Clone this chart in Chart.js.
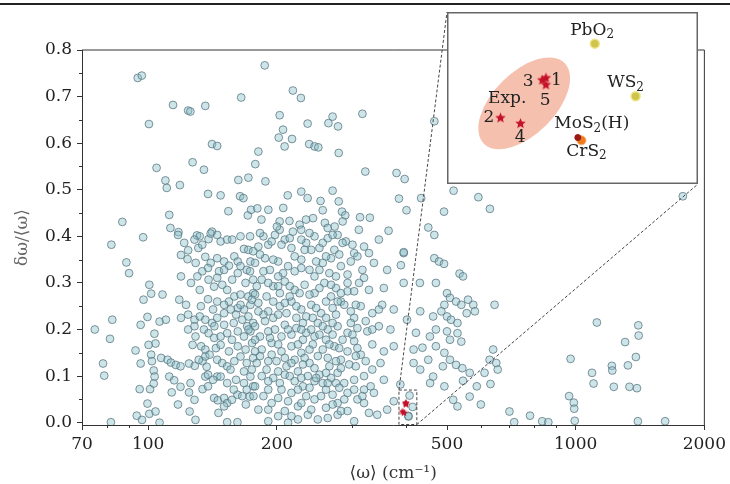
<!DOCTYPE html>
<html>
<head>
<meta charset="utf-8">
<script src="https://cdn.jsdelivr.net/npm/chart.js"></script>
<style>
  body { margin: 0; background: #fff; }
  #wrap { position: relative; width: 730px; height: 484px; overflow: hidden; }
  #topline { position: absolute; left: 0; top: 3px; width: 730px; height: 2px; background: #222; }
  #main { position: absolute; left: 0; top: 0; }
  #inset { position: absolute; left: 447px; top: 12px; }
</style>
</head>
<body>
<div id="wrap">
  <div id="topline"></div>
  <canvas id="main" width="730" height="484"></canvas>
  <canvas id="inset" width="251" height="172"></canvas>
</div>
<script>
// Axis ticks
const xTickVals = [70, 100, 200, 500, 1000, 2000];
const xMinorVals = [80, 90, 300, 400, 600, 700, 800, 900];
const yTickVals = [0, 0.1, 0.2, 0.3, 0.4, 0.5, 0.6, 0.7, 0.8];
const yMinorVals = [0.05, 0.15, 0.25, 0.35, 0.45, 0.55, 0.65, 0.75];

// Zoomed window shown in the inset
const zoomX = [386, 425];
const zoomY = [-0.004, 0.07];

// Experimental points (stars)
const expLabels = ['1', '3', '5', '2', '4'];
const expX = [400.7, 400.1, 400.7, 393.4, 396.6];
const expY = [0.0423, 0.0413, 0.0391, 0.0237, 0.0211];

// Highlighted compounds
const compoundNames = ['PbO₂', 'WS₂', 'MoS₂(H)', 'CrS₂'];
const compoundX = [408.7, 415.5, 405.9, 406.5];
const compoundY = [0.0583, 0.0338, 0.0146, 0.0133];

// All materials: [<omega> (cm^-1), delta omega / <omega>]
const materials = [
  [94.5,0.74],[96.6,0.745],[165,0.698],[114.3,0.682],[124,0.67],[125.5,0.668],[136,0.68],[100.4,0.641],[141,0.598],[145,0.594],
  [127,0.559],[135,0.543],[104.6,0.547],[109.7,0.52],[110.5,0.504],[118.6,0.51],[138,0.491],[147.7,0.488],[162.5,0.521],[171.5,0.526],
  [164,0.486],[167,0.482],[154,0.454],[171,0.445],[174,0.457],[112,0.446],[87,0.431],[112.7,0.418],[117.7,0.409],[141,0.41],[130,0.402],
  [187.3,0.767],[218,0.713],[227.6,0.697],[203,0.66],[206.7,0.629],[202,0.612],[208.5,0.593],[217,0.609],[236,0.642],[270,0.657],
  [264,0.643],[278,0.636],[238,0.598],[245,0.593],[250,0.591],[317,0.663],[279,0.579],[181,0.582],[178,0.555],[188,0.518],
  [322,0.539],[381,0.536],[398,0.523],[467,0.647],[386,0.481],[402,0.456],[435,0.482],[492,0.453],[452,0.419],[365,0.412],
  [212,0.488],[228,0.496],[236,0.482],[270,0.498],[253,0.476],[256,0.456],[279,0.475],[284,0.453],[289,0.445],[313,0.441],
  [330,0.44],[207,0.461],[191,0.457],[180,0.46],[184,0.436],[203,0.432],[214,0.433],[226,0.425],[234,0.436],[243,0.439],
  [259,0.429],[263,0.418],[273,0.421],[285,0.432],[311,0.414],[218,0.41],[228,0.414],[203,0.414],[200,0.421],
  [82,0.382],[97.3,0.398],[88.9,0.344],[90.2,0.321],[100.6,0.296],[101.6,0.277],[97.5,0.264],[108,0.275],[118.2,0.264],[82.4,0.221],
  [75,0.2],[81.4,0.18],[78.4,0.127],[78.9,0.101],[81.8,0.001],[96,0.21],[99.6,0.227],[106.3,0.217],[110,0.221],[103.4,0.191],
  [104,0.17],[100.2,0.167],[93.4,0.155],[101.6,0.146],[102,0.132],[96,0.127],[107.2,0.139],[111,0.135],[113,0.129],[116,0.124],
  [119,0.121],[124.6,0.127],[128.5,0.122],[134,0.132],[136,0.142],[137,0.12],[103,0.112],[103.5,0.099],[95.5,0.072],[101,0.072],
  [103,0.084],[112,0.099],[115,0.091],[113.5,0.065],[119,0.077],[99.6,0.041],[100.6,0.019],[104,0.024],[96.7,0.006],[106.3,0.0],
  [117.4,0.039],[125,0.024],[129,0.006],[124.6,0.065],[128.3,0.049],[125.6,0.085],[134,0.072],[138,0.078],[136,0.099],[138,0.103],
  [145,0.099],[142.6,0.053],[145.5,0.048],[150.5,0.053],[153,0.042],[157,0.049],[161.7,0.06],[146,0.021],[153,0.001],[161.7,0.001],
  [169.2,0.039],[172.8,0.056],[176,0.078],[94,0.015],
  [117.4,0.403],[119.3,0.36],[124,0.37],[123.6,0.351],[131,0.375],[132,0.4],[138.4,0.394],[140,0.406],[147.7,0.389],[153,0.393],
  [136,0.356],[140,0.343],[145,0.353],[150.5,0.346],[159,0.357],[162,0.346],[167.5,0.373],[171.5,0.371],[176,0.368],[138,0.332],
  [146.4,0.325],[154.5,0.337],[162,0.321],[170,0.328],[176,0.307],[125.9,0.3],[132,0.285],[138.4,0.307],[142.6,0.292],[149,0.296],
  [153,0.285],[159,0.271],[164.4,0.275],[171.5,0.271],[176,0.278],[138,0.265],[145,0.26],[154.5,0.26],[162,0.246],[167.5,0.243],
  [173.4,0.253],[119.3,0.225],[124,0.232],[128.3,0.221],[132,0.228],[136,0.221],[141,0.214],[145,0.225],[150.5,0.235],[156,0.243],
  [160.5,0.232],[166,0.221],[171.5,0.228],[176,0.214],[124,0.2],[129,0.185],[135,0.2],[138.4,0.192],[142.6,0.182],[147.7,0.185],
  [153,0.192],[157,0.178],[162,0.196],[167.5,0.185],[173.4,0.196],[127,0.167],[133,0.164],[136,0.157],[144,0.16],[147.7,0.167],
  [154.5,0.153],[162,0.164],[169,0.157],[175,0.171],[145,0.135],[149,0.128],[153,0.121],[159,0.132],[164.4,0.142],[170,0.128],
  [176,0.139],[147.7,0.099],[153,0.085],[160.5,0.092],[167.5,0.085],[173.4,0.099],[170,0.071],
  [121.4,0.386],[128.3,0.393],[133.8,0.382],[145,0.403],[157.2,0.393],[164.4,0.4],[129.1,0.343],[133.8,0.325],[150.5,0.328],[164.4,0.336],
  [173.4,0.346],[119.3,0.314],[130.3,0.314],[145,0.311],[157.2,0.307],[168.9,0.3],[122.6,0.253],[132.8,0.25],[141.8,0.243],[150.5,0.253],
  [164.4,0.253],[128.3,0.207],[142.8,0.207],[150.5,0.21],[158.5,0.214],[170.4,0.207],[131.3,0.135],[139.2,0.146],[155.8,0.114],[167.5,0.11],
  [141.8,0.092],[158.5,0.071],[165.9,0.057],[150.5,0.035],
  [197.9,0.403],[208.7,0.393],[234.2,0.386],[244.9,0.4],[263,0.396],[277.4,0.403],[290,0.389],[346.4,0.393],[319.8,0.378],[181,0.378],
  [190.9,0.382],[216.3,0.375],[240.6,0.371],[272.5,0.371],[395.9,0.364],
  [177.8,0.343],[187.6,0.353],[201.4,0.346],[212.4,0.336],[228.1,0.35],[238.4,0.328],[256,0.343],[267.7,0.353],[282.3,0.336],[297.8,0.346],
  [317,0.328],[337.3,0.343],[362.2,0.328],
  [184.3,0.307],[196.1,0.293],[208.7,0.303],[220.1,0.285],[232.2,0.296],[244.9,0.278],[258.3,0.3],[274.9,0.289],[292.6,0.282],[311.4,0.3],
  [328.4,0.285],[355.8,0.289],[395.9,0.3],
  [181,0.257],[190.9,0.239],[203.2,0.25],[216.3,0.26],[228.1,0.243],[240.6,0.253],[253.7,0.235],[270,0.246],[282.3,0.26],[297.8,0.239],
  [314.2,0.25],[334.3,0.235],[352.6,0.253],[375.3,0.243],[432.8,0.239],
  [177.8,0.207],[187.6,0.218],[197.9,0.2],[208.7,0.21],[222.1,0.203],[234.2,0.193],[249.3,0.214],[263,0.2],[277.4,0.207],[292.6,0.193],
  [308.6,0.203],[325.5,0.196],[346.4,0.207],[368.7,0.2],[403,0.221],
  [184.3,0.157],[194.4,0.171],[205,0.153],[216.3,0.164],[228.1,0.15],[242.7,0.168],[256,0.157],[272.5,0.164],[292.6,0.153],[314.2,0.146],
  [334.3,0.168],[355.8,0.153],[375.3,0.164],[417.6,0.157],
  [179.4,0.128],[189.2,0.114],[199.6,0.132],[210.6,0.121],[224,0.11],[238.4,0.128],[251.5,0.103],[265.3,0.121],[277.4,0.107],[295.2,0.125],
  [322.7,0.132],[349.5,0.128],[417.6,0.128],[432.8,0.114],
  [177.8,0.078],[190.9,0.071],[203.2,0.085],[216.3,0.064],[230.1,0.078],[244.9,0.089],[260.6,0.071],[274.9,0.085],[292.6,0.064],[319.8,0.071],
  [331.4,0.078],[355.8,0.092],[388.9,0.082],[456.5,0.085],
  [181,0.028],[194.4,0.042],[208.7,0.025],[224,0.035],[244.9,0.05],[260.6,0.032],[277.4,0.042],[292.6,0.025],[308.6,0.05],[224,0.007],
  [249.3,0.007],[263,0.01],[303.2,0.003],[319.8,0.042],[343.4,0.017],[362.2,0.028],[375.3,0.046],
  [186,0.4],[205,0.382],[228.1,0.393],[251.5,0.375],[284.9,0.386],[303.2,0.364],[192.6,0.328],[206.8,0.321],[220.1,0.325],[244.9,0.314],
  [265.3,0.321],[292.6,0.318],[177.8,0.275],[189.2,0.271],[203.2,0.278],[214.3,0.271],[238.4,0.275],[267.7,0.271],[287.5,0.253],[186,0.232],
  [196.1,0.225],[210.6,0.235],[222.1,0.225],[234.2,0.228],[260.6,0.225],[274.9,0.232],[303.2,0.225],[322.7,0.218],[182.6,0.185],[192.6,0.182],
  [205,0.185],[216.3,0.189],[230.1,0.178],[244.9,0.185],[260.6,0.178],[284.9,0.178],[303.2,0.175],[182.6,0.143],[194.4,0.146],[208.7,0.139],
  [220.1,0.135],[232.2,0.139],[249.3,0.143],[263,0.139],[282.3,0.135],[305.9,0.143],[184.3,0.1],[196.1,0.096],[208.7,0.103],[220.1,0.089],
  [236.3,0.1],[256,0.085],[267.7,0.096],[287.5,0.085],[303.2,0.092],[186,0.057],[201.4,0.053],[212.4,0.046],[234.2,0.057],[253.7,0.057],
  [270,0.06],[287.5,0.05],[317,0.057],[337.3,0.064],[201.4,0.014],[236.3,0.017],[277.4,0.017],[190.9,0.003],[212.4,0.0],
  [173.1,0.4],[182.6,0.407],[194.4,0.389],[214.3,0.396],[238.4,0.407],[256,0.386],[270,0.403],[300.5,0.382],
  [182.6,0.361],[196.1,0.35],[220.1,0.357],[232.2,0.371],[247.1,0.346],[260.6,0.357],[279.8,0.361],[308.6,0.357],[328.4,0.364],
  [173.1,0.325],[186,0.325],[201.4,0.314],[228.1,0.332],[251.5,0.328],[274.9,0.314],[292.6,0.3],[319.8,0.311],
  [179.4,0.293],[190.9,0.3],[201.4,0.293],[214.3,0.293],[226,0.278],[251.5,0.289],[267.7,0.296],[282.3,0.278],[303.2,0.282],
  [174.7,0.264],[196.1,0.26],[208.7,0.257],[222.1,0.25],[247.1,0.246],[260.6,0.26],[277.4,0.26],[305.9,0.253],[346.4,0.243],
  [181,0.239],[201.4,0.232],[230.1,0.214],[242.7,0.225],[256,0.207],[270,0.214],[297.8,0.214],[334.3,0.2],
  [171.6,0.2],[190.9,0.196],[212.4,0.2],[228.1,0.2],[240.6,0.2],[251.5,0.189],[270,0.189],[300.5,0.189],
  [177.8,0.178],[201.4,0.168],[224,0.168],[238.4,0.157],[265.3,0.168],[279.8,0.16],[308.6,0.16],
  [177.8,0.153],[190.9,0.132],[216.3,0.128],[230.1,0.125],[244.9,0.117],[274.9,0.132],[305.9,0.121],[334.3,0.114],
  [174.7,0.114],[201.4,0.11],[214.3,0.1],[228.1,0.096],[247.1,0.096],[260.6,0.107],[282.3,0.117],[319.8,0.1],
  [176.3,0.057],[190.9,0.089],[224,0.071],[238.4,0.075],[263,0.085],[279.8,0.075],[303.2,0.071],[205,0.071],
  [228.1,0.042],[270,0.039],[190.9,0.028],[216.3,0.014],[240.6,0.028],[282.3,0.025],[328.4,0.021],
  [518,0.498],[592,0.484],[630,0.459],[467,0.403],[396,0.366],[390,0.338],[467,0.353],[479,0.346],[492,0.341],[432,0.3],
  [471,0.3],[535,0.32],[545,0.314],[500,0.278],[508,0.268],[525,0.26],[540,0.253],[560,0.264],[576,0.253],[493,0.253],
  [485,0.239],[500,0.228],[511,0.221],[529,0.214],[556,0.235],[581,0.239],[500,0.196],[529,0.192],[508,0.178],[540,0.174],
  [493,0.15],[508,0.135],[525,0.124],[543,0.117],[565,0.107],[464,0.228],[471,0.2],[456,0.185],[471,0.164],[452,0.135],
  [489,0.121],[464,0.099],[493,0.078],[517,0.049],[529,0.035],[565,0.056],[587,0.078],[612,0.107],[646,0.253],[641,0.157],
  [629,0.135],[652,0.128],
  [1781,0.486],[1121,0.215],[1401,0.209],[1404,0.187],[1305,0.173],[1383,0.141],[1325,0.123],[973,0.137],[1215,0.122],[1218,0.112],
  [1092,0.107],[1101,0.084],[1228,0.077],[1336,0.077],[1391,0.074],[965,0.057],[990,0.043],[992,0.03],[995,0.004],[700,0.024],
  [782,0.015],[835,0.003],[863,0.001],[718,0.001],[1398,0.003],[1619,0.003],[657,0.114],[632,0.083],[545,0.09],[600,0.039],
  [423,0.193],[438,0.161]
];

const FONT = '"DejaVu Serif", "Liberation Serif", serif';

// filled five-point star used as a point style
function makeStar(r, color) {
  const c = document.createElement('canvas');
  c.width = c.height = Math.ceil(2 * r + 2);
  const g = c.getContext('2d');
  g.beginPath();
  for (let i = 0; i < 10; i++) {
    const a = -Math.PI / 2 + i * Math.PI / 5;
    const rr = i % 2 ? r * 0.45 : r;
    g.lineTo(c.width / 2 + rr * Math.cos(a), c.height / 2 + rr * Math.sin(a));
  }
  g.closePath();
  g.fillStyle = color;
  g.fill();
  return c;
}

// draw centred text, turning the '₂' character into a small lowered 2
function drawLabel(c, text, x, y) {
  const parts = text.split(/(₂)/).filter(s => s.length);
  const big = '17px ' + FONT, small = '12px ' + FONT;
  let w = 0;
  parts.forEach(p => { c.font = p === '₂' ? small : big; w += c.measureText(p === '₂' ? '2' : p).width; });
  let px = x - w / 2;
  c.textAlign = 'left';
  c.textBaseline = 'middle';
  parts.forEach(p => {
    if (p === '₂') {
      c.font = small;
      c.fillText('2', px, y + 5);
      px += c.measureText('2').width;
    } else {
      c.font = big;
      c.fillText(p, px, y);
      px += c.measureText(p).width;
    }
  });
}

const expPoints = expX.map((x, i) => ({ x: x, y: expY[i] }));
const compoundPoints = compoundX.map((x, i) => ({ x: x, y: compoundY[i] }));
const allMaterials = materials.map(p => ({ x: p[0], y: p[1] })).concat(compoundPoints);

// main axes: frame, minor ticks, zoom box and connector lines
const mainDecor = {
  id: 'mainDecor',
  afterDraw(chart) {
    const c = chart.ctx, a = chart.chartArea;
    const xs = chart.scales.x, ys = chart.scales.y;
    c.save();
    c.strokeStyle = '#333';
    c.lineWidth = 1;
    c.beginPath();
    c.moveTo(a.left, a.top); c.lineTo(a.right, a.top); c.lineTo(a.right, a.bottom);
    c.stroke();
    // minor ticks
    c.beginPath();
    xMinorVals.forEach(v => {
      const px = Math.round(xs.getPixelForValue(v)) + 0.5;
      c.moveTo(px, a.bottom); c.lineTo(px, a.bottom + 3);
    });
    yMinorVals.forEach(v => {
      const py = Math.round(ys.getPixelForValue(v)) + 0.5;
      c.moveTo(a.left - 3, py); c.lineTo(a.left, py);
    });
    c.stroke();
    // zoom rectangle
    const x0 = xs.getPixelForValue(zoomX[0]), x1 = xs.getPixelForValue(zoomX[1]);
    const y0 = ys.getPixelForValue(zoomY[1]), y1 = ys.getPixelForValue(zoomY[0]);
    c.strokeStyle = '#444';
    c.setLineDash([3, 2]);
    c.strokeRect(x0, y0, x1 - x0, y1 - y0);
    // connectors to inset corners
    const ins = document.getElementById('inset');
    const il = ins.offsetLeft, it = ins.offsetTop, iw = ins.width, ih = ins.height;
    c.beginPath();
    c.moveTo(x0, y0); c.lineTo(il, it);
    c.moveTo(x1, y1); c.lineTo(il + iw, it + ih);
    c.stroke();
    c.restore();
  }
};

new Chart(document.getElementById('main').getContext('2d'), {
  type: 'scatter',
  data: {
    datasets: [
      {
        data: expPoints,
        pointStyle: makeStar(4, '#c4122b'),
        pointRadius: 4
      },
      {
        data: allMaterials,
        backgroundColor: 'rgba(135,190,200,0.42)',
        borderColor: 'rgba(85,115,125,0.75)',
        borderWidth: 1,
        pointRadius: 3.9
      }
    ]
  },
  options: {
    responsive: false,
    animation: false,
    events: [],
    layout: { padding: { top: 50, right: 20, left: 0, bottom: 0 } },
    plugins: { legend: { display: false }, tooltip: { enabled: false } },
    scales: {
      x: {
        type: 'logarithmic',
        min: 70,
        max: 2000,
        afterBuildTicks: s => { s.ticks = xTickVals.map(v => ({ value: v })); },
        afterFit: s => { s.height = 59; },
        ticks: {
          callback: v => String(v),
          autoSkip: false,
          maxRotation: 0,
          padding: 4,
          color: '#222',
          font: { family: FONT, size: 17 }
        },
        grid: { drawOnChartArea: false, tickLength: 5, color: '#333' },
        border: { color: '#333', width: 1 },
        title: {
          display: true,
          text: '⟨ω⟩ (cm⁻¹)',
          color: '#333',
          font: { family: FONT, size: 17 },
          padding: { top: 0, bottom: 0 }
        }
      },
      y: {
        min: -0.005,
        max: 0.8,
        afterBuildTicks: s => { s.ticks = yTickVals.map(v => ({ value: v })); },
        afterFit: s => { s.width = 82; },
        ticks: {
          callback: v => v.toFixed(1),
          padding: 5,
          color: '#222',
          font: { family: FONT, size: 17 }
        },
        grid: { drawOnChartArea: false, tickLength: 5, color: '#333' },
        border: { color: '#333', width: 1 },
        title: {
          display: true,
          text: 'δω/⟨ω⟩',
          color: '#666',
          font: { family: FONT, size: 17 },
          padding: { top: 12, bottom: 0 }
        }
      }
    }
  },
  plugins: [mainDecor]
});

// inset: background, ellipse, frame and labels
const insetDecor = {
  id: 'insetDecor',
  beforeDraw(chart) {
    const c = chart.ctx;
    c.save();
    c.fillStyle = '#fff';
    c.fillRect(0, 0, chart.width, chart.height);
    c.restore();
  },
  beforeDatasetsDraw(chart) {
    const c = chart.ctx, xs = chart.scales.x, ys = chart.scales.y;
    c.save();
    c.beginPath();
    c.ellipse(xs.getPixelForValue(397.2), ys.getPixelForValue(0.0305), 57, 31, -Math.PI / 4, 0, 2 * Math.PI);
    c.fillStyle = 'rgba(238,140,110,0.55)';
    c.fill();
    c.restore();
  },
  afterDraw(chart) {
    const c = chart.ctx, xs = chart.scales.x, ys = chart.scales.y;
    c.save();
    c.fillStyle = '#222';
    const expOff = [[10.5, 2.3], [-14, 1.7], [-0.8, 16], [-11.5, 0], [-0.4, 14.3]];
    expLabels.forEach((t, i) => {
      drawLabel(c, t, xs.getPixelForValue(expX[i]) + expOff[i][0], ys.getPixelForValue(expY[i]) + expOff[i][1]);
    });
    const cOff = [[-2.7, -13.3], [-10, -13.5], [14, -14], [5, 11]];
    compoundNames.forEach((t, i) => {
      drawLabel(c, t, xs.getPixelForValue(compoundX[i]) + cOff[i][0], ys.getPixelForValue(compoundY[i]) + cOff[i][1]);
    });
    drawLabel(c, 'Exp.', xs.getPixelForValue(397.2) - 17, ys.getPixelForValue(0.0305) - 4.6);
    c.strokeStyle = '#666';
    c.lineWidth = 1.5;
    c.strokeRect(0.75, 0.75, chart.width - 1.5, chart.height - 1.5);
    c.restore();
  }
};

new Chart(document.getElementById('inset').getContext('2d'), {
  type: 'scatter',
  data: {
    datasets: [
      {
        data: expPoints,
        pointStyle: makeStar(5.5, '#c4122b'),
        pointRadius: 5.5
      },
      {
        data: [compoundPoints[2]],
        backgroundColor: '#9a1a12',
        borderColor: '#9a1a12',
        pointRadius: 3
      },
      {
        data: [compoundPoints[3]],
        backgroundColor: '#f07a1e',
        borderColor: '#f6b070',
        borderWidth: 1,
        pointRadius: 4.5
      },
      {
        data: [compoundPoints[0], compoundPoints[1]],
        backgroundColor: '#cfc54a',
        borderColor: '#ede487',
        borderWidth: 1.5,
        pointRadius: 4.5
      }
    ]
  },
  options: {
    responsive: false,
    animation: false,
    events: [],
    layout: { padding: 0 },
    plugins: { legend: { display: false }, tooltip: { enabled: false } },
    scales: {
      x: { type: 'logarithmic', min: zoomX[0], max: zoomX[1], display: false },
      y: { min: zoomY[0], max: zoomY[1], display: false }
    }
  },
  plugins: [insetDecor]
});
</script>
</body>
</html>
